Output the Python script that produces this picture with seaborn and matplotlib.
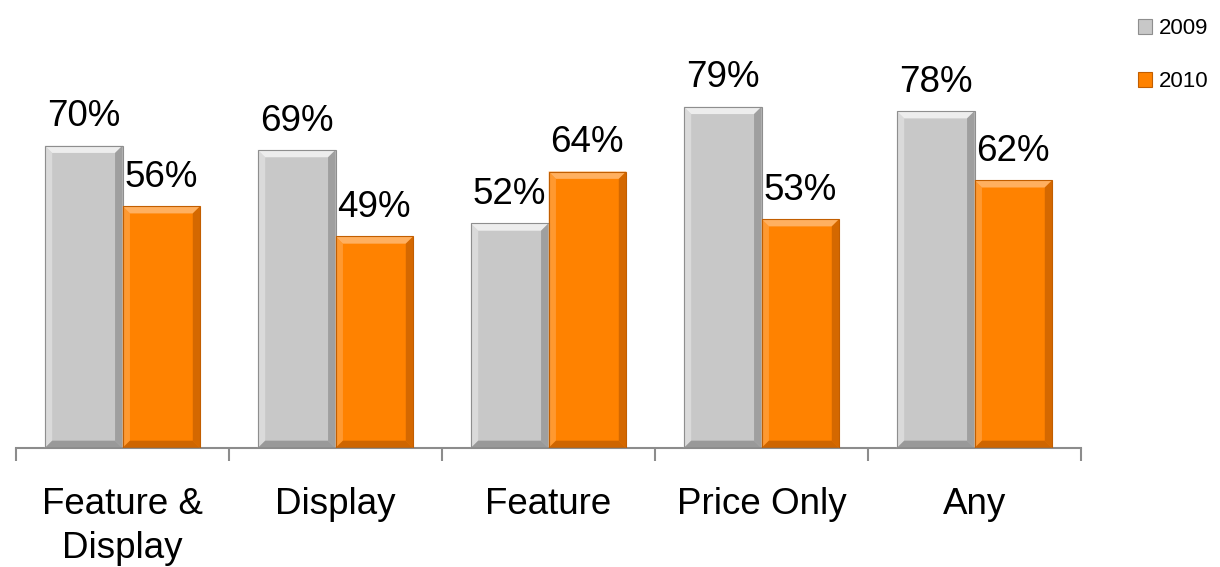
import matplotlib
matplotlib.use("Agg")
import matplotlib.pyplot as plt
import seaborn as sns
import pandas as pd
from matplotlib.patches import Polygon, Patch

categories = ["Feature &\nDisplay", "Display", "Feature", "Price Only", "Any"]
years = ["2009", "2010"]
values_2009 = [70, 69, 52, 79, 78]
values_2010 = [56, 49, 64, 53, 62]
colors = {"2009": "#C8C8C8", "2010": "#FF8200"}
edge_dark = {"2009": "#8E8E8E", "2010": "#C25E00"}
edge_light = {"2009": "#EDEDED", "2010": "#FFB060"}

df = pd.DataFrame({
    "category": categories * 2,
    "year": [years[0]] * len(categories) + [years[1]] * len(categories),
    "value": values_2009 + values_2010,
})

sns.set_style("white")
plt.rcParams["font.family"] = ["Liberation Sans", "DejaVu Sans"]

fig = plt.figure(figsize=(12.2, 5.67), dpi=100)
ax = fig.add_axes([16 / 1220, 119 / 567, (1081 - 16) / 1220, 432 / 567])

sns.barplot(data=df, x="category", y="value", hue="year", palette=colors,
            width=0.73, gap=0, ax=ax, legend=False, saturation=1,
            edgecolor="none", linewidth=0)

ax.set_xlim(-0.5, len(categories) - 0.5)
ax.set_ylim(0, 100)

# bevel decoration derived from bar patches
bw = 0.035
bh = 1.7
for container, yr in zip(ax.containers, years):
    for rect, val in zip(container.patches, container.datavalues):
        x0 = rect.get_x()
        w = rect.get_width()
        h = rect.get_height()
        x1 = x0 + w
        ax.add_patch(Polygon([[x0, h], [x1, h], [x1 - bw, h - bh], [x0 + bw, h - bh]],
                             closed=True, facecolor=edge_light[yr], edgecolor="none", zorder=3))
        ax.add_patch(Polygon([[x0, 0], [x0, h], [x0 + bw, h - bh], [x0 + bw, bh]],
                             closed=True, facecolor=edge_light[yr], alpha=0.5, edgecolor="none", zorder=3))
        ax.add_patch(Polygon([[x1, 0], [x1, h], [x1 - bw, h - bh], [x1 - bw, bh]],
                             closed=True, facecolor=edge_dark[yr], alpha=0.7, edgecolor="none", zorder=3))
        ax.add_patch(Polygon([[x0, 0], [x1, 0], [x1 - bw, bh], [x0 + bw, bh]],
                             closed=True, facecolor=edge_dark[yr], alpha=0.8, edgecolor="none", zorder=3))
        ax.add_patch(plt.Rectangle((x0, 0), w, h, fill=False, edgecolor=edge_dark[yr],
                                   linewidth=0.8, zorder=4))
        ax.text(x0 + w / 2, h + 2.6, f"{int(val)}%", ha="center", va="bottom",
                fontsize=26.5, color="black", zorder=5)

for s in ["top", "right", "left"]:
    ax.spines[s].set_visible(False)
ax.spines["bottom"].set_color("#8C8C8C")
ax.spines["bottom"].set_linewidth(1.5)
ax.set_yticks([])
ax.set_xticks([i + 0.5 for i in range(-1, len(categories))], minor=True)
ax.tick_params(axis="x", which="minor", bottom=True, length=9, width=1.5,
               color="#8C8C8C", direction="out")
ax.tick_params(axis="x", which="major", bottom=False, length=0, labelsize=26.5,
               labelcolor="black", pad=28)
ax.set_xlabel("")
ax.set_ylabel("")
for lbl in ax.get_xticklabels():
    lbl.set_linespacing(1.33)

handles = [Patch(facecolor=colors[y], edgecolor=edge_dark[y], linewidth=0.8) for y in years]
leg = fig.legend(handles, years, loc="upper left", bbox_to_anchor=(1118 / 1220, 1 + 2 / 567),
                 frameon=False, fontsize=16, handlelength=0.65, handleheight=0.65,
                 handletextpad=0.3, labelspacing=1.45)
for t in leg.get_texts():
    t.set_color("black")

fig.savefig("out.png", dpi=100)
